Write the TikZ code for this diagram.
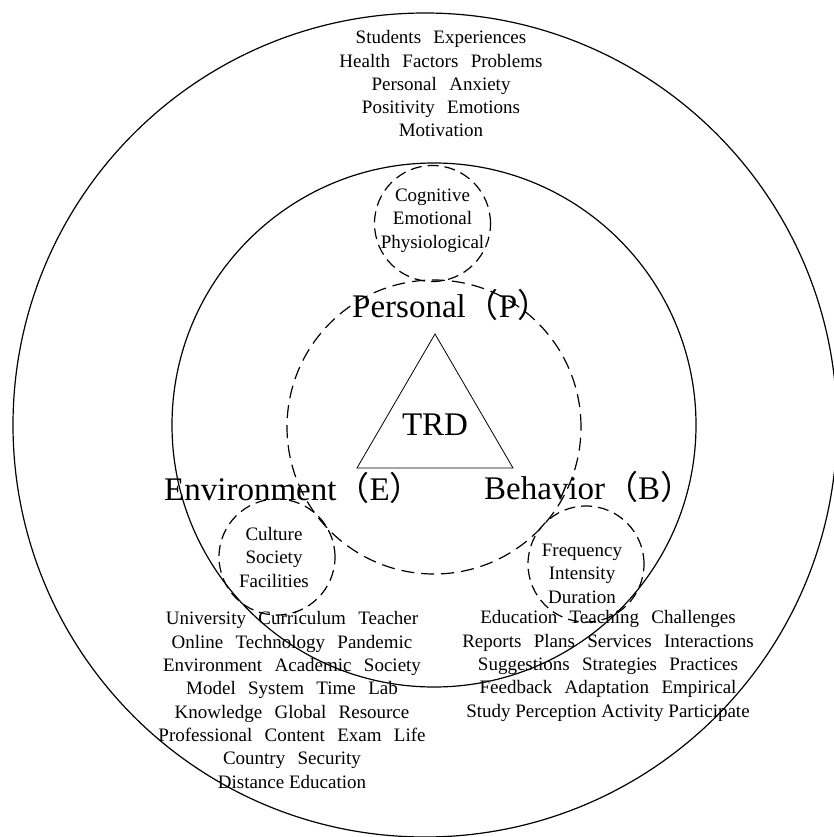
\documentclass[tikz,border=0pt]{standalone}
\usepackage{fontspec}
\setmainfont{Liberation Serif}
\newfontfamily\widefont[WordSpace=2.6]{Liberation Serif}
\newfontfamily\cjkparen{Noto Sans CJK SC}
\newcommand{\lpar}{{\cjkparen （}}
\newcommand{\rpar}{{\cjkparen ）}}

\tikzset{
  ring/.style={circle, draw, line width=1.2pt, inner sep=0pt},
  dashring/.style={circle, draw, line width=1.2pt, inner sep=0pt, dash pattern=on 11pt off 6pt},
  % multi-line keyword blocks: placed by the baseline of their last line
  smalltext/.style={font=\widefont\fontsize{19}{23.3}\selectfont, align=center, inner sep=0pt, anchor=base},
  bigtext/.style={font=\fontsize{33}{40}\selectfont, inner sep=0pt},
}

\begin{document}
\begin{tikzpicture}[x=1pt,y=-1pt]
\useasboundingbox (0,0) rectangle (834,837);

% rings
\node[ring, minimum size=824pt] (outer) at (425,425) {};
\node[ring, minimum size=524pt] (middle) at (434,425) {};
\node[dashring, minimum size=294pt, dash pattern=on 13pt off 7pt] (core) at (434,427) {};
\node[dashring, minimum size=116pt] (pring) at (432.5,223.5) {};
\node[dashring, minimum size=116pt] (ering) at (277,557) {};
\node[dashring, minimum size=116pt] (bring) at (586,564) {};

% central triangle
\coordinate (tA) at (435,334);
\coordinate (tB) at (357,468);
\coordinate (tC) at (513,468);
\draw[line width=0.8pt] (tA) -- (tB) -- (tC) -- cycle;
\node[bigtext, anchor=base] (trd) at (435,435) {TRD};

% the three factors
\node[bigtext, anchor=base west] (personal) at (352,317) {Personal\lpar P\rpar};
\node[bigtext, anchor=base west] (environment) at (164,500) {Environment\lpar E\rpar};
\node[bigtext, anchor=base west] (behavior) at (484,499) {Behavior\lpar B\rpar};

% keyword groups
\node[smalltext] (outerwords) at (441,137)
  {Students Experiences\\Health Factors Problems\\Personal Anxiety\\Positivity Emotions\\Motivation};
\node[smalltext] (pwords) at (432.5,248)
  {Cognitive\\Emotional\\Physiological};
\node[smalltext] (ewords) at (274,587)
  {Culture\\Society\\Facilities};
\node[smalltext] (bwords) at (582,603)
  {Frequency\\Intensity\\Duration};
\node[smalltext] (elist) at (292,788)
  {University Curriculum Teacher\\Online Technology Pandemic\\Environment Academic Society\\Model System Time Lab\\Knowledge Global Resource\\Professional Content Exam Life\\Country Security\\{\rmfamily Distance Education}};
\node[smalltext] (blist) at (608,717)
  {Education Teaching Challenges\\Reports Plans Services Interactions\\Suggestions Strategies Practices\\Feedback Adaptation Empirical\\{\rmfamily Study Perception Activity Participate}};
\end{tikzpicture}
\end{document}
